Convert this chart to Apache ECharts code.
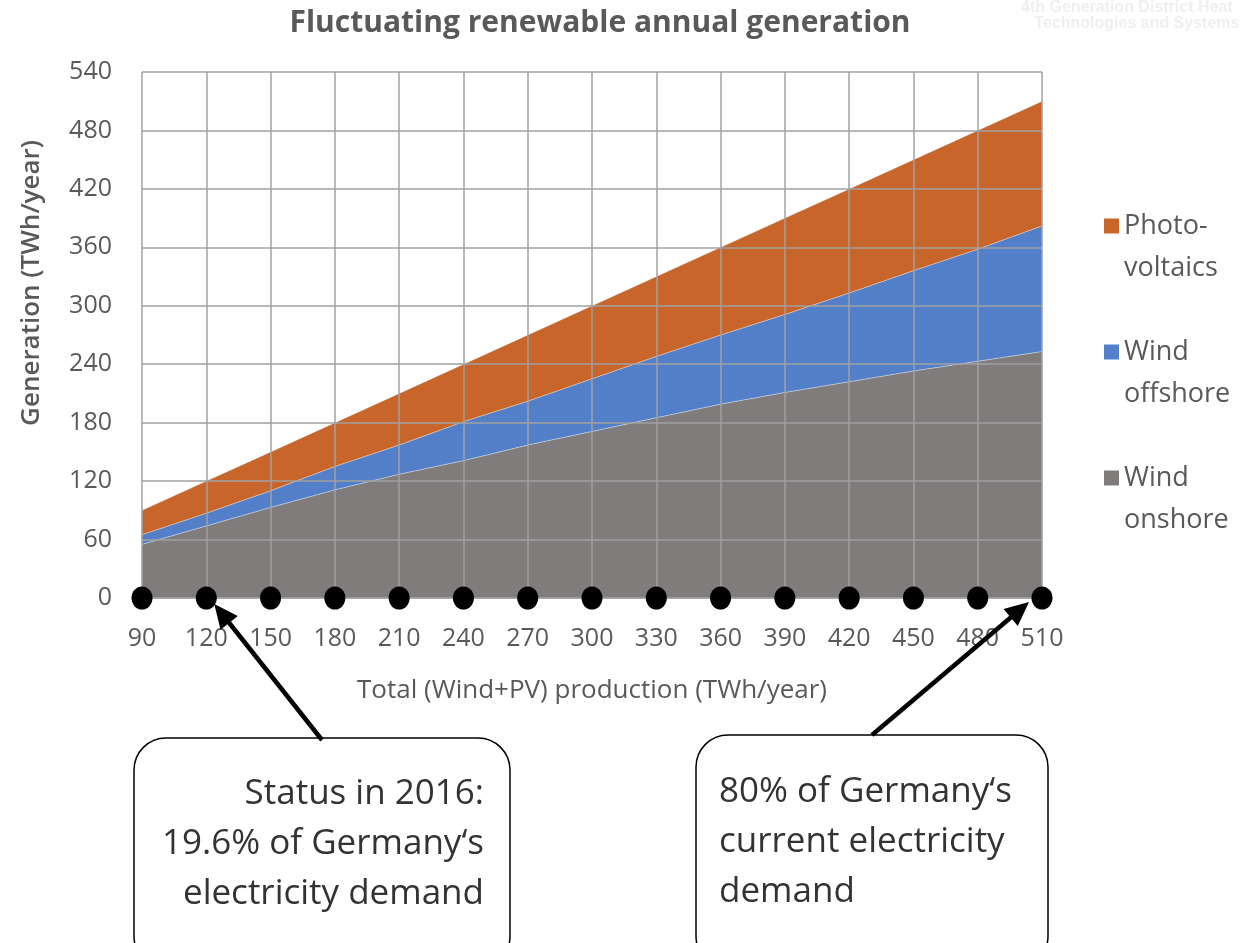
<!DOCTYPE html>
<html>
<head>
<meta charset="utf-8">
<style>
  html, body { margin: 0; padding: 0; background: #ffffff; }
  #chart { width: 1243px; height: 943px; }
</style>
<script src="https://cdn.jsdelivr.net/npm/echarts@6/dist/echarts.min.js"></script>
</head>
<body>
<div id="chart"></div>
<script>
// Total wind + PV production scenarios (TWh/year)
const totals = ['90', '120', '150', '180', '210', '240', '270', '300', '330', '360', '390', '420', '450', '480', '510'];
// Generation split per technology (TWh/year), stacked
const windOnshore  = [55, 74, 93, 111, 127, 141, 157, 171, 185, 199, 211, 222, 233, 243, 253];
const windOffshore = [10, 13, 17, 24, 30, 40, 45, 54, 63, 71, 80, 91, 103, 115, 129];
const photovoltaics = [25, 33, 40, 45, 53, 59, 68, 75, 82, 90, 99, 107, 114, 122, 128];
// Markers sitting on the horizontal axis
const axisMarkers = [0, 0, 0, 0, 0, 0, 0, 0, 0, 0, 0, 0, 0, 0, 0];
const yTicks = { min: 0, max: 540, interval: 60 };

const FONT = '"Open Sans", "Noto Sans", sans-serif';
const GREY_TEXT = '#595959';

const legendNames = {
  'Photovoltaics': '\nPhoto-\nvoltaics',
  'Wind offshore': '\nWind\noffshore',
  'Wind onshore': '\nWind\nonshore'
};

function areaSeries(name, data, shown, fill) {
  return {
    name: name,
    type: 'line',
    stack: 'total',
    data: data,
    symbol: 'none',
    color: shown,
    lineStyle: { width: 0.8, color: 'rgba(255,255,255,0.55)' },
    areaStyle: { color: fill, opacity: 0.85 },
    z: 2
  };
}

const chart = echarts.init(document.getElementById('chart'), null, { renderer: 'canvas' });

chart.setOption({
  backgroundColor: '#ffffff',
  animation: false,
  title: {
    text: 'Fluctuating renewable annual generation',
    left: 595,
    textAlign: 'center',
    top: 3,
    textStyle: { fontFamily: FONT, fontSize: 30, fontWeight: 'bold', color: GREY_TEXT }
  },
  grid: { left: 142, right: 201, top: 72, bottom: 345 },
  legend: {
    orient: 'vertical',
    left: 1099,
    top: 158,
    icon: 'rect',
    itemWidth: 15,
    itemHeight: 15,
    itemGap: 0,
    data: ['Photovoltaics', 'Wind offshore', 'Wind onshore'],
    formatter: function (n) { return legendNames[n]; },
    textStyle: { fontFamily: FONT, fontSize: 27, color: GREY_TEXT, lineHeight: 42 },
    selectedMode: false
  },
  xAxis: {
    type: 'category',
    data: totals,
    boundaryGap: false,
    z: 3,
    name: 'Total (Wind+PV) production (TWh/year)',
    nameLocation: 'middle',
    nameGap: 80,
    nameTextStyle: { fontFamily: FONT, fontSize: 26, color: GREY_TEXT },
    axisLine: { show: true, lineStyle: { color: '#a0a0a0', width: 1.5 } },
    axisTick: { show: false },
    axisLabel: { fontFamily: FONT, fontSize: 25, color: GREY_TEXT, margin: 28, interval: 0 },
    splitLine: { show: true, interval: 0, lineStyle: { color: '#a0a0a0', width: 1.5 } }
  },
  yAxis: {
    type: 'value',
    min: yTicks.min,
    max: yTicks.max,
    interval: yTicks.interval,
    z: 3,
    axisLine: { show: false },
    axisTick: { show: false },
    axisLabel: { fontFamily: FONT, fontSize: 25, color: GREY_TEXT, margin: 30 },
    splitLine: { show: true, lineStyle: { color: '#a0a0a0', width: 1.5 } }
  },
  series: [
    areaSeries('Wind onshore', windOnshore, '#807c7b', '#6a6564'),
    areaSeries('Wind offshore', windOffshore, '#5380c9', '#3569bf'),
    areaSeries('Photovoltaics', photovoltaics, '#c8672a', '#bd4a06'),
    {
      name: 'markers',
      type: 'scatter',
      data: axisMarkers,
      symbol: 'circle',
      symbolSize: [21, 23],
      itemStyle: { color: '#000000', opacity: 1 },
      clip: false,
      z: 5,
      silent: true
    }
  ]
});

// Arrows and callout boxes, anchored to the axis markers they point at
function arrow(tail, tip) {
  const dx = tip[0] - tail[0], dy = tip[1] - tail[1];
  const len = Math.sqrt(dx * dx + dy * dy);
  const ux = dx / len, uy = dy / len;
  const head = 24, half = 11;
  const bx = tip[0] - ux * head, by = tip[1] - uy * head;
  return [
    {
      type: 'line',
      shape: { x1: tail[0], y1: tail[1], x2: bx + ux * 2, y2: by + uy * 2 },
      style: { stroke: '#000000', lineWidth: 4.5 },
      z: 10
    },
    {
      type: 'polygon',
      shape: { points: [tip, [bx - uy * half, by + ux * half], [bx + uy * half, by - ux * half]] },
      style: { fill: '#000000' },
      z: 10
    }
  ];
}

const p120 = chart.convertToPixel({ xAxisIndex: 0, yAxisIndex: 0 }, ['120', 0]);
const p510 = chart.convertToPixel({ xAxisIndex: 0, yAxisIndex: 0 }, ['510', 0]);

const CALLOUT_TEXT = { fontFamily: FONT, fontSize: 35, fill: '#333333', lineHeight: 50 };

chart.setOption({
  graphic: [
    {
      type: 'text',
      rotation: Math.PI / 2,
      x: 32,
      y: 283,
      style: { text: 'Generation (TWh/year)', fontFamily: FONT, fontSize: 26, fontWeight: 600, fill: GREY_TEXT, align: 'center', verticalAlign: 'middle' }
    },
    {
      type: 'text',
      x: 1021, y: 0,
      style: { text: '4th Generation District Heat\n   Technologies and Systems', fontFamily: 'Arial, "Liberation Sans", sans-serif', fontSize: 16, fontWeight: 'bold', fill: '#efefef', align: 'left', lineHeight: 16 }
    },
    {
      type: 'rect',
      shape: { x: 134, y: 738, width: 376, height: 230, r: 32 },
      style: { fill: '#ffffff', stroke: '#000000', lineWidth: 1.5 },
      z: 9
    },
    {
      type: 'text',
      x: 484, y: 769,
      style: Object.assign({ text: 'Status in 2016:\n19.6% of Germany‘s\nelectricity demand', align: 'right' }, CALLOUT_TEXT),
      z: 11
    },
    {
      type: 'rect',
      shape: { x: 696, y: 735, width: 352, height: 233, r: 32 },
      style: { fill: '#ffffff', stroke: '#000000', lineWidth: 1.5 },
      z: 9
    },
    {
      type: 'text',
      x: 719, y: 767,
      style: Object.assign({ text: '80% of Germany‘s\ncurrent electricity\ndemand', align: 'left' }, CALLOUT_TEXT),
      z: 11
    }
  ].concat(
    arrow([322, 740], [p120[0] + 8, p120[1] + 6]),
    arrow([872, 735], [p510[0] - 13, p510[1] + 4])
  )
});
</script>
</body>
</html>
